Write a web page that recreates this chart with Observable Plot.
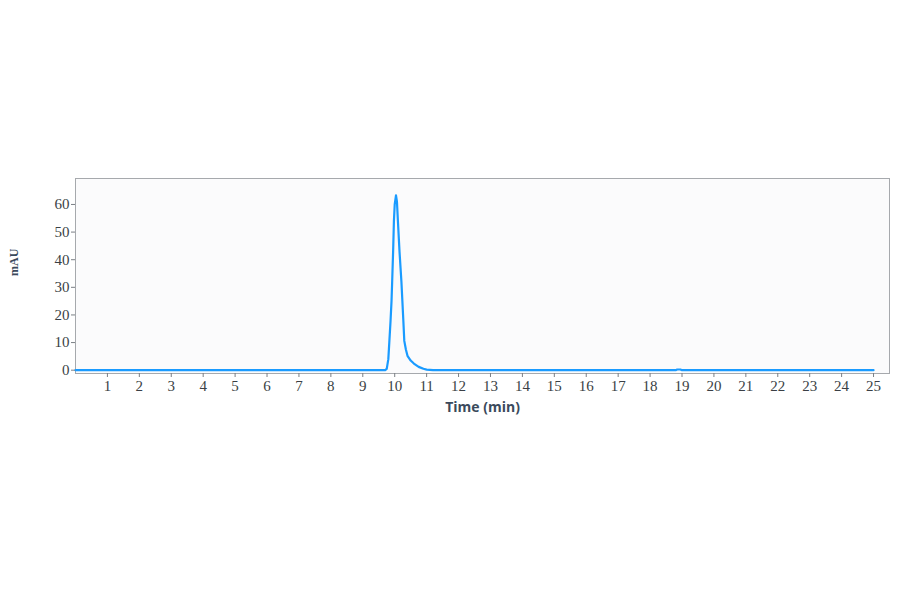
<!DOCTYPE html>
<html>
<head>
<meta charset="utf-8">
<script src="https://cdn.jsdelivr.net/npm/d3@7"></script>
<script src="https://cdn.jsdelivr.net/npm/@observablehq/plot@0.6"></script>
<style>
  html, body { margin: 0; padding: 0; background: #ffffff; }
  #chart svg { display: block; }
</style>
</head>
<body>
<div id="chart"></div>
<script>
// Chromatogram trace: retention time (min) and absorbance (mAU)
const time = [0, 5, 9.0, 9.70, 9.75, 9.80, 9.83, 9.87, 9.90, 9.92, 9.95, 9.975, 10.00, 10.04, 10.07, 10.10, 10.15, 10.21, 10.24, 10.27, 10.30, 10.35, 10.40, 10.50, 10.60, 10.75, 10.90, 11.0, 11.2, 15, 18.80, 18.85, 18.95, 19.0, 22, 25];
const mAU  = [0, 0, 0,   0,    0.5,  4,    10,   18,   25,   32,   43,   54,    60,    63.3,  61,    54,    43,    32,    25,    18,    10.6,  7.5,   5.2,   3.5,   2.4,   1.2,   0.5,   0.2,  0,    0,  0,     0.25,  0.25,  0,    0,  0];
const xTicks = [1,2,3,4,5,6,7,8,9,10,11,12,13,14,15,16,17,18,19,20,21,22,23,24,25];
const yTicks = [0,10,20,30,40,50,60];
const xLabel = "Time (min)";
const yLabel = "mAU";

const data = time.map((t, i) => ({t, v: mAU[i]}));

const chart = Plot.plot({
  width: 900,
  height: 594,
  marginTop: 178,
  marginBottom: 221,
  marginLeft: 75,
  marginRight: 11,
  style: {background: "#ffffff"},
  x: {domain: [0, 25.5]},
  y: {domain: [-1.2, 69.4]},
  marks: [
    Plot.frame({fill: "#fbfbfc", stroke: "#a6a9ad", strokeWidth: 1}),
    Plot.line(data, {x: "t", y: "v", stroke: "#1a9bff", strokeWidth: 2.2, curve: "linear"}),
    Plot.axisX({ticks: xTicks, tickSize: 4, tickPadding: 3, fontSize: 15, fontFamily: "Liberation Serif", color: "#3a3f45", label: null, stroke: "#7a7f85"}),
    Plot.axisY({ticks: yTicks, tickSize: 4, tickPadding: 2, fontSize: 15, fontFamily: "Liberation Serif", color: "#3a3f45", label: null, stroke: "#7a7f85"}),
    Plot.text([xLabel], {frameAnchor: "bottom", dy: 38, text: d => d, fontSize: 14, fontWeight: "bold", fontFamily: "Open Sans", fill: "#3b4a5c"}),
    Plot.text([yLabel], {frameAnchor: "left", dx: -61, rotate: -90, text: d => d, fontSize: 12, fontWeight: "bold", fontFamily: "Liberation Serif", fill: "#3b4a5c"})
  ]
});
document.getElementById("chart").append(chart);
</script>
</body>
</html>
